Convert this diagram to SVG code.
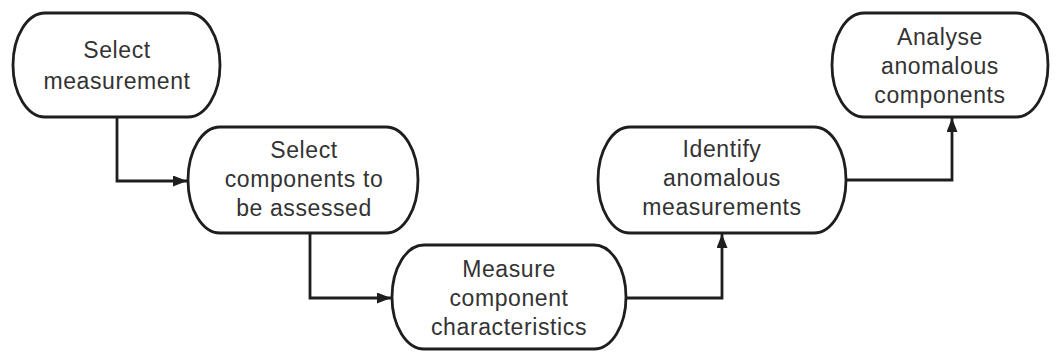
<svg xmlns="http://www.w3.org/2000/svg" width="1058" height="354" viewBox="0 0 1058 354">
  <defs>
    <marker id="arrow" viewBox="0 0 14 11" refX="14" refY="5.5" markerWidth="14" markerHeight="11" markerUnits="userSpaceOnUse" orient="auto">
      <path d="M0,0 L14,5.5 L0,11 Z" fill="#1e1e1e"/>
    </marker>
    <style>
      .box { fill: #ffffff; stroke: #1e1e1e; stroke-width: 2.8; }
      .label { font-family: "Liberation Sans", Arial, sans-serif; font-size: 23px; fill: #333333; text-anchor: middle; letter-spacing: 0.6px; }
      .link { fill: none; stroke: #1e1e1e; stroke-width: 2.8; marker-end: url(#arrow); }
    </style>
  </defs>
  <rect width="1058" height="354" fill="#ffffff"/>

  <g id="connectors">
    <path class="link" d="M117,117 V181 H187"/>
    <path class="link" d="M310,233 V298 H391"/>
    <path class="link" d="M626,298 H722 V234"/>
    <path class="link" d="M846,180 H952 V118"/>
  </g>

  <g id="select-measurement">
    <rect class="box" x="13" y="13" width="207" height="104" rx="32" ry="52"/>
    <text class="label" x="117" y="58">Select</text>
    <text class="label" x="117" y="89">measurement</text>
  </g>

  <g id="select-components">
    <rect class="box" x="188" y="127" width="230" height="106" rx="32" ry="53"/>
    <text class="label" x="304" y="158">Select</text>
    <text class="label" x="304" y="187">components to</text>
    <text class="label" x="304" y="216">be assessed</text>
  </g>

  <g id="measure-characteristics">
    <rect class="box" x="392" y="245" width="234" height="104" rx="32" ry="52"/>
    <text class="label" x="509" y="277">Measure</text>
    <text class="label" x="509" y="306">component</text>
    <text class="label" x="509" y="335">characteristics</text>
  </g>

  <g id="identify-anomalous">
    <rect class="box" x="598" y="127" width="248" height="106" rx="32" ry="53"/>
    <text class="label" x="722" y="157">Identify</text>
    <text class="label" x="722" y="186">anomalous</text>
    <text class="label" x="722" y="215">measurements</text>
  </g>

  <g id="analyse-anomalous">
    <rect class="box" x="832" y="13" width="216" height="104" rx="32" ry="52"/>
    <text class="label" x="940" y="45">Analyse</text>
    <text class="label" x="940" y="74">anomalous</text>
    <text class="label" x="940" y="103">components</text>
  </g>
</svg>
